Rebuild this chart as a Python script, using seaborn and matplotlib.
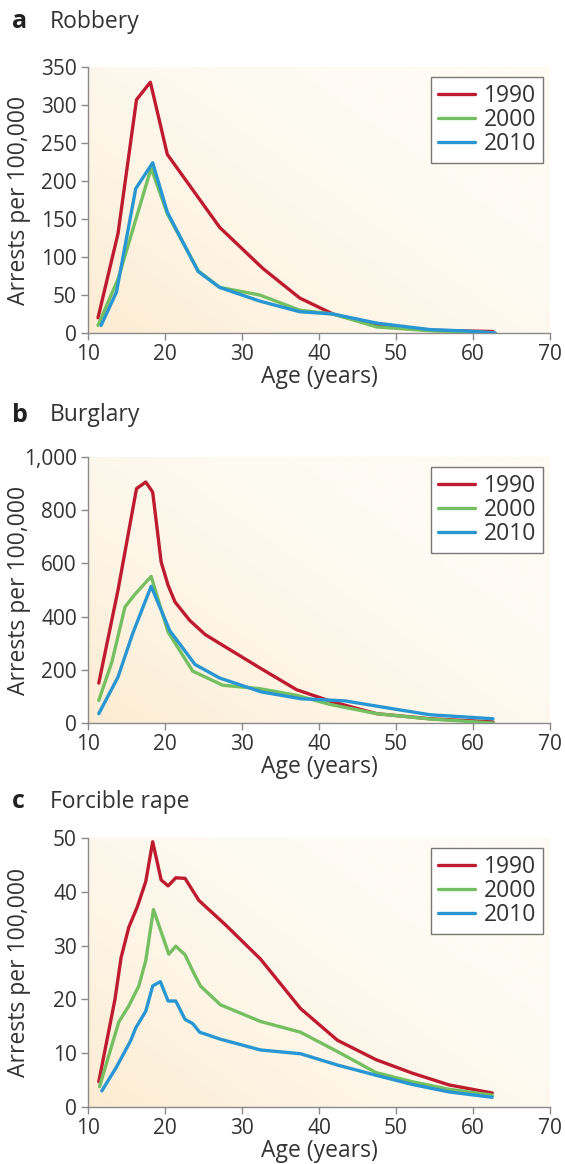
import matplotlib
matplotlib.use("Agg")
import matplotlib.pyplot as plt
import numpy as np
import pandas as pd
import seaborn as sns

# Robbery
rob_age_1990 = [11.3, 13.9, 16.3, 18.1, 20.3, 27.1, 32.7, 37.5, 41.8, 47.5, 54.4, 62.6]
rob_1990 = [20, 131, 307, 330, 235, 139, 85, 46, 25, 10, 3.5, 2]
rob_age_2000 = [11.3, 13.9, 18.2, 20.3, 24.3, 27.1, 32.3, 37.5, 41.8, 47.5, 54.4, 62.6]
rob_2000 = [10, 71, 217, 157, 82, 60, 50, 30, 25, 8, 3, 0.5]
rob_age_2010 = [11.7, 13.7, 16.2, 18.4, 20.3, 24.3, 27.1, 32.3, 37.5, 41.8, 47.5, 54.4, 59.2, 62.9]
rob_2010 = [10, 54, 190, 224, 159, 81, 60, 42, 28, 25, 13, 4.5, 2.6, 0]

# Burglary
bur_age_1990 = [11.4, 13.9, 16.3, 17.5, 18.4, 19.5, 20.4, 21.3, 23.2, 25.2, 27.5, 32.5, 37.1, 41.8, 47.5, 54.4, 62.6]
bur_1990 = [150, 500, 881, 906, 868, 605, 518, 455, 386, 333, 292, 204, 125, 79, 35, 16, 4]
bur_age_2000 = [11.4, 13.1, 14.8, 16.1, 18.2, 20.4, 23.6, 27.5, 32.3, 37.1, 41.4, 47.5, 54.4, 62.6]
bur_2000 = [85, 229, 436, 484, 551, 342, 195, 142, 129, 104, 70, 35, 15, 0]
bur_age_2010 = [11.4, 13.9, 15.8, 18.2, 20.6, 23.9, 27.1, 32.5, 37.7, 40.1, 43.4, 50.1, 54.4, 62.6]
bur_2010 = [35, 173, 336, 514, 348, 220, 169, 117, 91, 88, 83, 51, 31, 16]

# Forcible rape
rap_age_1990 = [11.4, 13.5, 14.3, 15.3, 16.4, 17.5, 18.4, 19.5, 20.4, 21.4, 22.6, 24.4, 27.9, 32.4, 37.6, 42.4, 47.4, 52.1, 56.9, 62.5]
rap_1990 = [4.7, 20, 27.8, 33.4, 37.2, 41.9, 49.3, 42.2, 41.1, 42.6, 42.5, 38.4, 33.8, 27.5, 18.3, 12.4, 8.8, 6.3, 4.1, 2.6]
rap_age_2000 = [11.5, 14.0, 15.3, 16.6, 17.5, 18.5, 20.5, 21.4, 22.6, 23.7, 24.6, 27.2, 32.4, 37.6, 42.4, 47.4, 52.1, 56.9, 62.5]
rap_2000 = [3.8, 15.8, 18.8, 22.5, 27.2, 36.7, 28.4, 29.9, 28.3, 25, 22.5, 19, 15.9, 13.9, 10.3, 6.4, 4.7, 3.3, 2.2]
rap_age_2010 = [11.8, 13.6, 15.5, 16.2, 17.5, 18.4, 19.4, 20.4, 21.4, 22.6, 23.6, 24.5, 27.2, 32.4, 37.6, 42.4, 47.4, 52.1, 56.9, 62.5]
rap_2010 = [3.0, 7.2, 12.2, 14.7, 17.8, 22.5, 23.3, 19.7, 19.7, 16.3, 15.5, 13.9, 12.6, 10.6, 9.9, 7.8, 5.9, 4.2, 2.8, 1.8]

years = ["1990", "2000", "2010"]
colors = {"1990": "#be1a30", "2000": "#74bf62", "2010": "#2896d3"}


def make_frame(ages, values):
    rows = []
    for year, a, v in zip(years, ages, values):
        rows.append(pd.DataFrame({"age": a, "rate": v, "year": year}))
    return pd.concat(rows, ignore_index=True)


panels = [
    ("a", "Robbery", make_frame([rob_age_1990, rob_age_2000, rob_age_2010], [rob_1990, rob_2000, rob_2010]),
     350, np.arange(0, 351, 50), lambda v: f"{int(v)}"),
    ("b", "Burglary", make_frame([bur_age_1990, bur_age_2000, bur_age_2010], [bur_1990, bur_2000, bur_2010]),
     1000, np.arange(0, 1001, 200), lambda v: f"{int(v):,}"),
    ("c", "Forcible rape", make_frame([rap_age_1990, rap_age_2000, rap_age_2010], [rap_1990, rap_2000, rap_2010]),
     50, np.arange(0, 51, 10), lambda v: f"{int(v)}"),
]

sns.set_style("white")
plt.rcParams["font.family"] = ["Open Sans", "DejaVu Sans"]

W, H = 565, 1164
fig = plt.figure(figsize=(W / 100, H / 100), dpi=100)

# axes boxes in pixels: left, top, right, bottom
boxes = [(88, 67, 550, 333), (88, 457, 550, 723), (88, 838, 550, 1107)]
title_y = [22, 415, 802]

# background gradient: light orange at bottom-left, fading to cream top-right
gx, gy = np.meshgrid(np.linspace(0, 1, 200), np.linspace(0, 1, 200))
t = np.clip(1 - (0.8 * gx + 0.65 * gy), 0, 1) ** 1.4
c0 = np.array([254, 251, 243]) / 255
c1 = np.array([252, 236, 210]) / 255
grad = c0[None, None, :] * (1 - t[..., None]) + c1[None, None, :] * t[..., None]

for (letter, name, df, ymax, yticks, fmt), (l, tp, r, b), ty in zip(panels, boxes, title_y):
    ax = fig.add_axes([l / W, 1 - b / H, (r - l) / W, (b - tp) / H])
    ax.imshow(grad, extent=[0, 1, 0, 1], transform=ax.transAxes, origin="lower",
              aspect="auto", zorder=0)
    sns.lineplot(data=df, x="age", y="rate", hue="year", palette=colors,
                 linewidth=2.4, sort=False, estimator=None, ax=ax, zorder=3)
    ax.set_xlim(10, 70)
    ax.set_ylim(0, ymax)
    ax.set_xticks(np.arange(10, 71, 10))
    ax.set_yticks(yticks)
    ax.set_yticklabels([fmt(v) for v in yticks])
    for s in ["top", "right"]:
        ax.spines[s].set_visible(False)
    for s in ["left", "bottom"]:
        ax.spines[s].set_color("#8a8a8a")
        ax.spines[s].set_linewidth(1.0)
    ax.tick_params(axis="both", direction="out", length=5, width=1.0, color="#8a8a8a",
                   labelsize=15, labelcolor="#333333", pad=3, left=True, bottom=True)
    ax.set_xlabel("Age (years)", fontsize=16.5, color="#333333", labelpad=0)
    ax.set_ylabel("Arrests per 100,000", fontsize=16.5, color="#333333", va="center")
    ax.yaxis.set_label_coords((19 - l) / (r - l), 0.5)
    leg = ax.legend(loc="upper right", bbox_to_anchor=(0.985, 0.962), borderaxespad=0,
                    fontsize=16.5, frameon=True, fancybox=False, handlelength=1.6,
                    handletextpad=0.4, labelspacing=0.0, borderpad=0.3, title=None)
    leg.get_frame().set_edgecolor("#777777")
    leg.get_frame().set_linewidth(1.0)
    leg.get_frame().set_facecolor("white")
    leg.get_frame().set_alpha(1)
    for txt in leg.get_texts():
        txt.set_color("#333333")
    fig.text(12 / W, 1 - ty / H, letter, fontsize=18, fontweight="bold", color="#222222",
             va="center", ha="left")
    fig.text(50 / W, 1 - ty / H, name, fontsize=16.5, color="#333333", va="center", ha="left")

fig.savefig("out.png", dpi=100)
